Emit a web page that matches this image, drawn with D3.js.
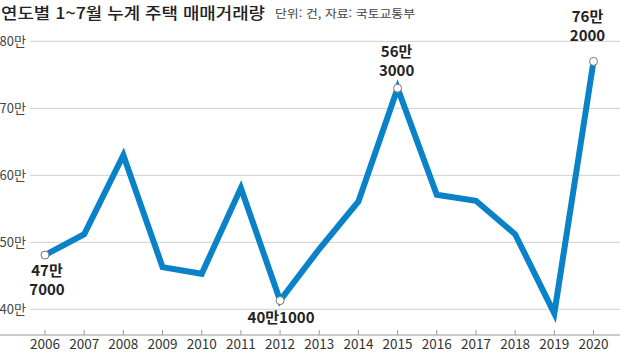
<!DOCTYPE html>
<html lang="ko">
<head>
<meta charset="UTF-8">
<title>연도별 1~7월 누계 주택 매매거래량</title>
<script src="https://d3js.org/d3.v7.min.js"></script>
<style>
  body { margin: 0; background: #fff; }
  text { font-family: "Liberation Sans Narrow", "Noto Sans CJK KR", sans-serif; }
  .title { font-family: "Noto Sans CJK KR", sans-serif; font-size: 16px; font-weight: 500; fill: #222; }
  .sub { font-family: "Noto Sans CJK KR", sans-serif; font-size: 11.5px; fill: #444; }
  .tick-y { font-size: 13px; fill: #444; }
  .tick-x { font-size: 13.5px; fill: #333; }
  .vlabel { font-size: 15px; fill: #222; font-weight: bold; text-anchor: middle; }
</style>
</head>
<body>
<div id="chart"></div>
<script>
// values as drawn on the chart (unit: 만 건)
const years = [2006, 2007, 2008, 2009, 2010, 2011, 2012, 2013, 2014, 2015, 2016, 2017, 2018, 2019, 2020];
const volumes = [48.1, 51.2, 63.0, 46.3, 45.3, 58.1, 41.3, 49.0, 56.1, 73.0, 57.1, 56.2, 51.2, 39.4, 77.0];
const yTicks = [40, 50, 60, 70, 80];
const yTickLabels = ["40만", "50만", "60만", "70만", "80만"];
// annotated points
const noteYears = [2006, 2012, 2015, 2020];
const noteLines = [["47만", "7000"], ["40만1000"], ["56만", "3000"], ["76만", "2000"]];

const width = 620, height = 353;

const svg = d3.select("#chart").append("svg")
  .attr("width", width)
  .attr("height", height);

const x = d3.scalePoint().domain(years).range([45, 593.5]);
const y = d3.scaleLinear().domain([40, 80]).range([309.3, 41.3]);

// title
svg.append("text").attr("class", "title")
  .attr("x", 1).attr("y", 19)
  .attr("textLength", 264).attr("lengthAdjust", "spacingAndGlyphs")
  .text("연도별 1~7월 누계 주택 매매거래량");
svg.append("text").attr("class", "sub")
  .attr("x", 275).attr("y", 18)
  .attr("textLength", 140).attr("lengthAdjust", "spacingAndGlyphs")
  .text("단위: 건, 자료: 국토교통부");

// horizontal grid
svg.selectAll(".grid").data(yTicks).enter().append("line")
  .attr("x1", 30).attr("x2", width)
  .attr("y1", d => y(d)).attr("y2", d => y(d))
  .attr("stroke", "#cfcfcf").attr("stroke-width", 1);

svg.selectAll(".tick-y").data(yTicks).enter().append("text")
  .attr("class", "tick-y")
  .attr("x", 26).attr("y", d => y(d) + 5)
  .attr("text-anchor", "end")
  .text((d, i) => yTickLabels[i]);

// x axis
const axisY = 335;
svg.append("line")
  .attr("x1", 0).attr("x2", width)
  .attr("y1", axisY).attr("y2", axisY)
  .attr("stroke", "#999");
svg.selectAll(".xt").data(years).enter().append("line")
  .attr("x1", d => x(d)).attr("x2", d => x(d))
  .attr("y1", axisY - 5).attr("y2", axisY)
  .attr("stroke", "#999");
svg.selectAll(".tick-x").data(years).enter().append("text")
  .attr("class", "tick-x")
  .attr("x", d => x(d)).attr("y", 349)
  .attr("text-anchor", "middle")
  .text(d => d);

// line
const line = d3.line().x((d, i) => x(years[i])).y(d => y(d));
svg.append("path")
  .datum(volumes)
  .attr("fill", "none")
  .attr("stroke", "#0a82c8")
  .attr("stroke-width", 6)
  .attr("stroke-linejoin", "miter")
  .attr("d", line);

// marker circles
svg.selectAll(".dot").data(noteYears).enter().append("circle")
  .attr("cx", d => x(d))
  .attr("cy", d => y(volumes[years.indexOf(d)]))
  .attr("r", 4)
  .attr("fill", "#fff")
  .attr("stroke", "#777")
  .attr("stroke-width", 1);

// value labels
const labelOffsets = [[2, 21], [1, 22], [-1, -31], [-6, -39]];
noteYears.forEach((yr, k) => {
  const px = x(yr) + labelOffsets[k][0];
  const py = y(volumes[years.indexOf(yr)]) + labelOffsets[k][1];
  const t = svg.append("text").attr("class", "vlabel").attr("x", px).attr("y", py);
  noteLines[k].forEach((s, j) => {
    t.append("tspan").attr("x", px).attr("dy", j === 0 ? 0 : 19).text(s);
  });
});
</script>
</body>
</html>
